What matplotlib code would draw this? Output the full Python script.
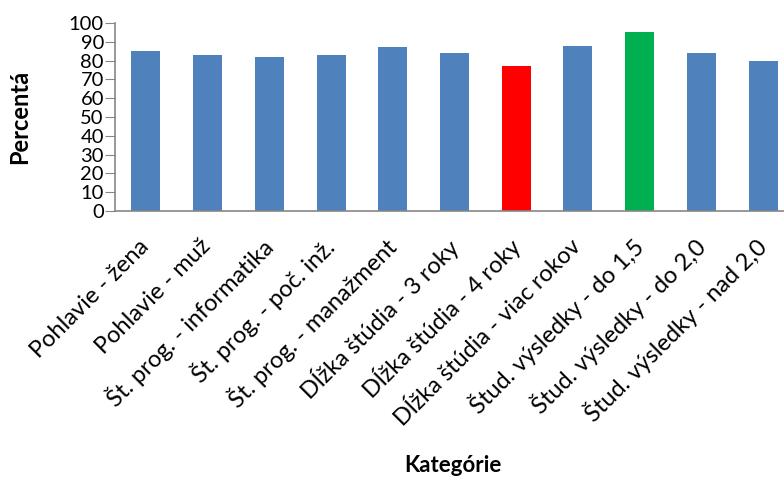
import matplotlib.pyplot as plt

kategorie = ['Pohlavie - žena', 'Pohlavie - muž', 'Št. prog. - informatika',
             'Št. prog. - poč. inž.', 'Št. prog. - manažment',
             'Dĺžka štúdia - 3 roky', 'Dĺžka štúdia - 4 roky',
             'Dĺžka štúdia - viac rokov', 'Štud. výsledky - do 1,5',
             'Štud. výsledky - do 2,0', 'Štud. výsledky - nad 2,0']
percenta = [85, 83, 82, 83, 87, 84, 77, 88, 95, 84, 80]
farby = ['#4F81BD'] * 11
farby[6] = '#FF0000'
farby[8] = '#00B050'

plt.rcParams['font.family'] = ['Lato', 'DejaVu Sans']

fig = plt.figure(figsize=(7.84, 4.78), dpi=100)
ax = fig.add_axes([115 / 784, 1 - 211 / 478, 679 / 784, 188 / 478])

ax.bar(range(len(kategorie)), percenta, width=0.47, color=farby, zorder=2)
ax.set_xlim(-0.5, len(kategorie) - 0.5)
ax.set_ylim(0, 100)
ax.set_yticks(range(0, 101, 10))
ax.tick_params(axis='y', labelsize=14.5, length=7, color='#868686', pad=1)
ax.tick_params(axis='x', length=0, pad=23)
ax.set_xticks(range(len(kategorie)))
ax.set_xticklabels(kategorie, rotation=45, ha='right', va='center',
                   rotation_mode='anchor', fontsize=17)

for s in ['top', 'right']:
    ax.spines[s].set_visible(False)
for s in ['left', 'bottom']:
    ax.spines[s].set_color('#868686')
    ax.spines[s].set_linewidth(1.2)

fig.text(20 / 784, 1 - 117 / 478, 'Percentá', rotation=90, ha='center',
         va='center', fontsize=17, fontweight='bold')
fig.text(453 / 784, 1 - 466 / 478, 'Kategórie', ha='center', va='center',
         fontsize=16, fontweight='bold')

fig.savefig('out.png', dpi=100)
